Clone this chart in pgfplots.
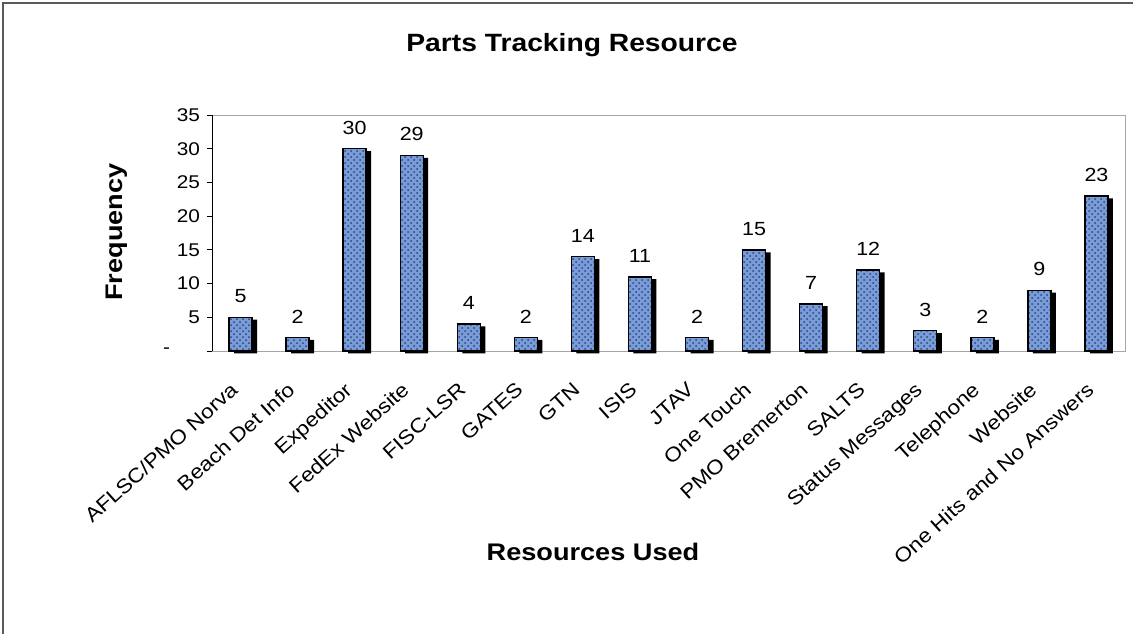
\documentclass[border=0pt]{standalone}
\usepackage{fontspec}
\setmainfont{Liberation Sans}[FakeStretch=1.13]
\usepackage{pgfplots}
\pgfplotsset{compat=1.18}
\usetikzlibrary{patterns}
\definecolor{barblue}{RGB}{122,156,214}
\definecolor{bardark}{RGB}{40,68,135}
\definecolor{framegray}{RGB}{90,90,90}

\pgfplotstableread{
x y
0 5
1 2
2 30
3 29
4 4
5 2
6 14
7 11
8 2
9 15
10 7
11 12
12 3
13 2
14 9
15 23
}\resources

\begin{document}
\begin{tikzpicture}
\useasboundingbox (0,0) rectangle (566.5pt,317pt);
% outer chart frame (only left and top visible)
\draw[framegray, line width=1pt] (1.5pt,0) -- (1.5pt,315.5pt) -- (566.5pt,315.5pt);
\begin{axis}[
    at={(106pt,141.5pt)}, anchor=south west,
    scale only axis,
    width=456.5pt, height=118pt,
    /pgf/number format/assume math mode=true,
    ybar, bar width=11.5pt,
    clip=false,
    xmin=-0.5, xmax=15.5,
    ymin=0, ymax=35,
    ytick={0,5,...,35},
    yticklabels={{-\rule{15pt}{0pt}},5,10,15,20,25,30,35},
    xtick={0,...,15},
    xticklabels={AFLSC/PMO Norva, Beach Det Info, Expeditor, FedEx Website,
      FISC-LSR, GATES, GTN, ISIS, JTAV, One Touch, PMO Bremerton, SALTS,
      Status Messages, Telephone, Website, One Hits and No Answers},
    xticklabel style={font=\fontsize{10}{12}\selectfont, rotate=42, anchor=north east,
      inner sep=1pt, xshift=-11.4pt, yshift=-4.4pt},
    yticklabel style={font=\fontsize{9.2}{11}\selectfont},
    xtick style={draw=none},
    ytick pos=left,
    ytick style={black, thin},
    tick align=outside,
    major tick length=2.5pt,
    axis line style={gray!70, thin},
    nodes near coords,
    every node near coord/.append style={font=\fontsize{9.5}{11}\selectfont, black, yshift=3.5pt},
    extra description/.code={\draw[black, thin] (rel axis cs:0,0) -- (rel axis cs:0,1);},
]
% drop shadow
\addplot[fill=black, draw=none, bar shift=2.5pt, yshift=-1.2pt, nodes near coords={}] table[x=x, y=y] {\resources};
% bars
\addplot[fill=barblue, draw=black, line width=0.7pt, bar shift=0pt,
  postaction={pattern=crosshatch dots, pattern color=bardark}] table[x=x, y=y] {\resources};
\end{axis}
\node[font=\bfseries\fontsize{12.5}{14}\selectfont] at (286pt,294.5pt) {Parts Tracking Resource};
\node[font=\bfseries\fontsize{12}{14}\selectfont] at (296.5pt,41pt) {Resources Used};
\node[font=\bfseries\fontsize{12}{14}\selectfont, rotate=90] at (58.5pt,201pt) {Frequency};
\end{tikzpicture}
\end{document}
